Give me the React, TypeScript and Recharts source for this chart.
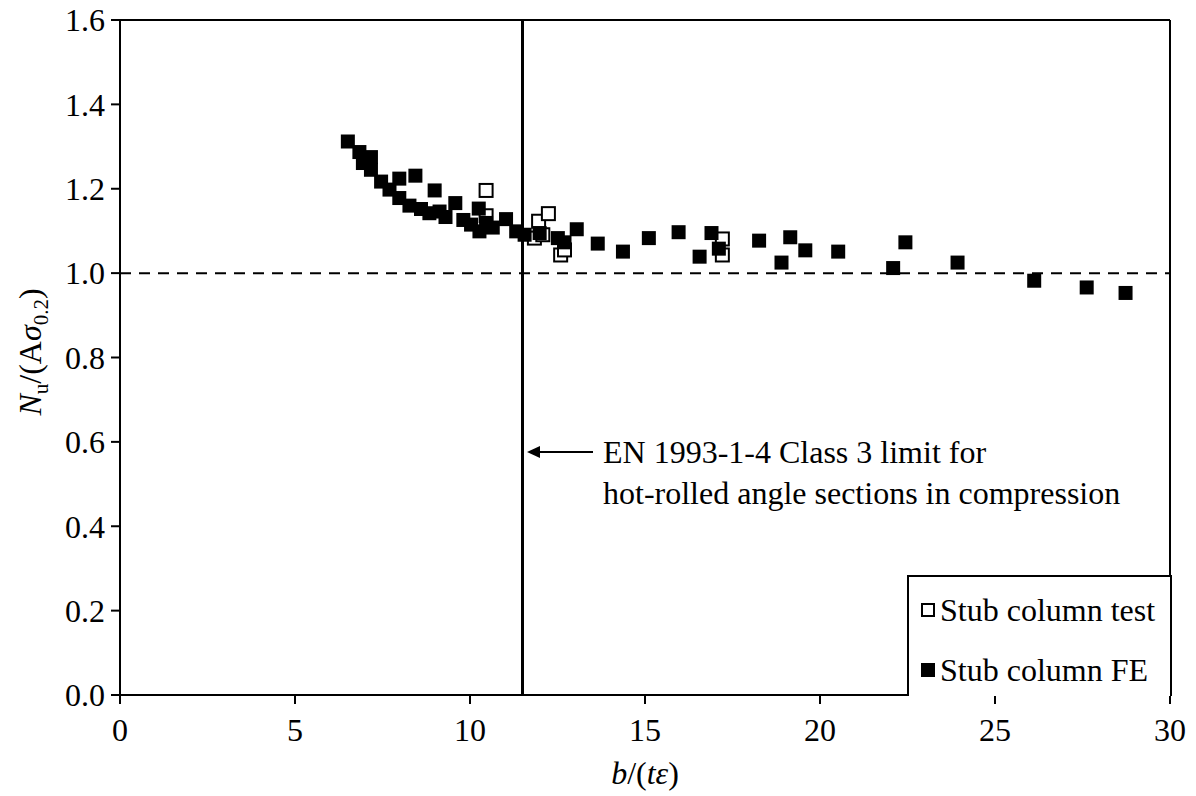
import React from 'react';
import { ScatterChart, Scatter, XAxis, YAxis, ReferenceLine, Customized } from 'recharts';

// Stub column tests (open squares)
const testX = [10.46, 10.46, 11.84, 11.96, 12.08, 12.24, 12.59, 12.7, 17.21, 17.21];
const testY = [1.196, 1.136, 1.083, 1.123, 1.091, 1.141, 1.043, 1.055, 1.081, 1.043];

// Stub column FE results (filled squares)
const feX = [
  6.51, 6.84, 6.94, 7.17, 7.17, 7.46, 7.7, 7.98, 7.98, 8.27, 8.44, 8.6, 8.84, 8.99, 9.13, 9.3,
  9.58, 9.81, 10.03, 10.25, 10.27, 10.46, 10.65, 11.03, 11.32, 11.56, 11.99, 12.51, 12.7, 13.05,
  13.65, 14.37, 15.11, 15.96, 16.56, 16.9, 17.11, 18.26, 18.9, 19.15, 19.58, 20.52, 22.09, 22.44,
  23.93, 26.12, 27.62, 28.73,
];
const feY = [
  1.312, 1.287, 1.261, 1.275, 1.245, 1.217, 1.198, 1.224, 1.178, 1.16, 1.231, 1.152, 1.142, 1.196,
  1.146, 1.133, 1.166, 1.126, 1.115, 1.153, 1.099, 1.119, 1.108, 1.128, 1.099, 1.091, 1.095, 1.083,
  1.073, 1.104, 1.07, 1.051, 1.083, 1.097, 1.039, 1.095, 1.058, 1.077, 1.025, 1.085, 1.054, 1.051,
  1.012, 1.073, 1.025, 0.982, 0.966, 0.953,
];

const xTicks = [0, 5, 10, 15, 20, 25, 30];
const yTicks = [0, 0.2, 0.4, 0.6, 0.8, 1.0, 1.2, 1.4, 1.6];
const classLimit = 11.5;

const testData = testX.map((x, i) => ({ x, y: testY[i] }));
const feData = feX.map((x, i) => ({ x, y: feY[i] }));

const FONT = '"Liberation Serif", "Times New Roman", serif';
const FS = 32;

const FilledSquare = ({ cx, cy }: any) => <rect x={cx - 7} y={cy - 7} width={14} height={14} fill="#000" />;
const OpenSquare = ({ cx, cy }: any) => (
  <rect x={cx - 6.5} y={cy - 6.5} width={13} height={13} fill="#fff" stroke="#000" strokeWidth={2} />
);

const YLabel = () => (
  <text transform="translate(41,352) rotate(-90)" textAnchor="middle" fontFamily={FONT} fontSize={FS} fill="#000">
    <tspan fontStyle="italic">N</tspan>
    <tspan fontSize={21} dy={7}>u</tspan>
    <tspan dy={-7}>/(A</tspan>
    <tspan fontStyle="italic">σ</tspan>
    <tspan fontSize={21} dy={7}>0.2</tspan>
    <tspan dy={-7}>)</tspan>
  </text>
);

const XLabel = () => (
  <text x={645} y={784} textAnchor="middle" fontFamily={FONT} fontSize={FS} fill="#000">
    <tspan fontStyle="italic">b</tspan>
    <tspan>/(</tspan>
    <tspan fontStyle="italic">tε</tspan>
    <tspan>)</tspan>
  </text>
);

const Annotation = () => (
  <g>
    <line x1={593} y1={452} x2={538} y2={452} stroke="#000" strokeWidth={2} />
    <path d="M527,452 L540,446 L540,458 Z" fill="#000" />
    <text x={603} y={463} fontFamily={FONT} fontSize={FS} fill="#000">EN 1993-1-4 Class 3 limit for</text>
    <text x={603} y={504} fontFamily={FONT} fontSize={FS} fill="#000">hot-rolled angle sections in compression</text>
    <XLabel />
    <YLabel />
  </g>
);

const LegendBox = () => (
  <div
    style={{
      position: 'absolute',
      left: 907,
      top: 575,
      width: 261,
      height: 119,
      border: '2px solid #000',
      borderBottom: 'none',
      background: '#fff',
      fontFamily: FONT,
      fontSize: FS,
      color: '#000',
      lineHeight: 1,
    }}
  >
    <div style={{ display: 'flex', alignItems: 'center', height: 66, paddingLeft: 12 }}>
      <svg width={14} height={14} style={{ marginRight: 5 }}>
        <rect x={1} y={1} width={12} height={12} fill="#fff" stroke="#000" strokeWidth={2} />
      </svg>
      Stub column test
    </div>
    <div style={{ display: 'flex', alignItems: 'center', height: 54, paddingLeft: 12 }}>
      <svg width={14} height={14} style={{ marginRight: 5 }}>
        <rect x={0} y={0} width={14} height={14} fill="#000" />
      </svg>
      Stub column FE
    </div>
  </div>
);

export default function App() {
  return (
    <div style={{ position: 'relative', marginLeft: -8, marginTop: -8, width: 1196, height: 796, background: '#fff' }}>
      <ScatterChart width={1196} height={796} margin={{ top: 20, right: 26, bottom: 0, left: 0 }}>
        <XAxis
          type="number"
          dataKey="x"
          domain={[0, 30]}
          ticks={xTicks}
          height={101}
          axisLine={{ stroke: '#000', strokeWidth: 2 }}
          tickLine={{ stroke: '#000', strokeWidth: 2 }}
          tickSize={9}
          tickMargin={14}
          tick={{ fontSize: FS, fontFamily: FONT, fill: '#000' }}
          allowDataOverflow
        />
        <YAxis
          type="number"
          dataKey="y"
          domain={[0, 1.6]}
          ticks={yTicks}
          width={120}
          axisLine={{ stroke: '#000', strokeWidth: 2 }}
          tickLine={{ stroke: '#000', strokeWidth: 2 }}
          tickSize={9}
          tickMargin={6}
          tickFormatter={(v: number) => v.toFixed(1)}
          tick={{ fontSize: FS, fontFamily: FONT, fill: '#000' }}
          allowDataOverflow
        />
        <ReferenceLine y={1.6} stroke="#000" strokeWidth={2} />
        <ReferenceLine x={30} stroke="#000" strokeWidth={2} />
        <ReferenceLine y={1.0} stroke="#000" strokeWidth={2} strokeDasharray="11 8" />
        <ReferenceLine x={classLimit} stroke="#000" strokeWidth={3} />
        <Scatter name="Stub column test" data={testData} shape={<OpenSquare />} isAnimationActive={false} />
        <Scatter name="Stub column FE" data={feData} shape={<FilledSquare />} isAnimationActive={false} />
        <Customized component={Annotation} />
      </ScatterChart>
      <LegendBox />
    </div>
  );
}
